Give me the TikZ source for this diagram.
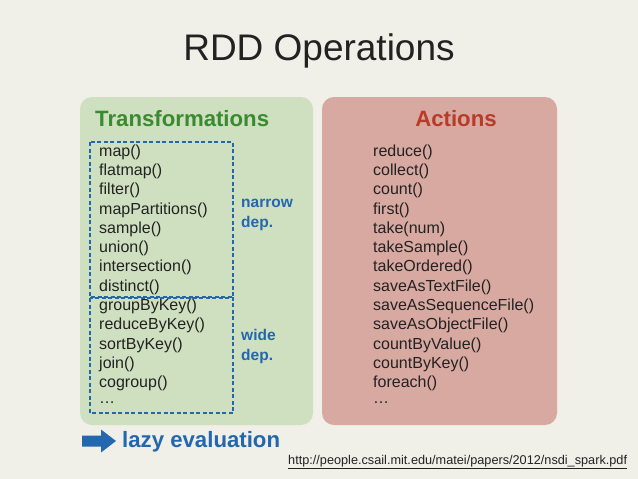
\documentclass[tikz,border=0pt]{standalone}
\usepackage{fontspec}
\setmainfont{Liberation Sans}
\definecolor{bg}{HTML}{F0EFE8}
\definecolor{greenpanel}{HTML}{CFE0C0}
\definecolor{redpanel}{HTML}{D8A9A1}
\definecolor{greentitle}{HTML}{3A8A30}
\definecolor{redtitle}{HTML}{B83A28}
\definecolor{depblue}{HTML}{2367AE}
\definecolor{txt}{HTML}{222222}
\tikzset{
  panel/.style={rounded corners=12pt, draw=none},
  head/.style={font=\fontsize{22.2}{26}\selectfont\bfseries, anchor=west},
  item/.style={font=\fontsize{16}{18}\selectfont, text=txt, anchor=west, inner sep=0pt},
  dep/.style={font=\fontsize{15.5}{18}\selectfont\bfseries, text=depblue, anchor=west, inner sep=0pt, align=left},
  depbox/.style={draw=depblue, line width=1.6pt, dash pattern=on 4pt off 2.5pt},
}
\begin{document}
\begin{tikzpicture}[x=1pt,y=-1pt]
\fill[bg] (0,0) rectangle (638,479);
\useasboundingbox (0,0) rectangle (638,479);
\node[font=\fontsize{37}{42}\selectfont, text=txt] (title) at (319,51) {RDD Operations};
\fill[panel, greenpanel] (80,97) rectangle (313,425);
\fill[panel, redpanel] (322,97) rectangle (557,425);
\node[head, text=greentitle, inner sep=0pt] (th) at (95,119) {Transformations};
\node[head, text=redtitle, anchor=center] (ah) at (456,119) {Actions};
\foreach \t [count=\i from 0] in {map(),flatmap(),filter(),mapPartitions(),sample(),union(),intersection(),distinct(),groupByKey(),reduceByKey(),sortByKey(),join(),cogroup(),\dots}
  \node[item] (t\i) at (99,{152+\i*19.3}) {\t};
\foreach \t [count=\i from 0] in {reduce(),collect(),count(),first(),take(num),takeSample(),takeOrdered(),saveAsTextFile(),saveAsSequenceFile(),saveAsObjectFile(),countByValue(),countByKey(),foreach(),\dots}
  \node[item] (a\i) at (373,{152+\i*19.3}) {\t};
\draw[depbox] (90,142) rectangle (233,297);
\draw[depbox] (90,298) rectangle (233,413);
\node[dep] (narrow) at (241,215) {narrow\\[2pt]dep.};
\node[dep] (wide) at (241,346) {wide\\[2pt]dep.};
\fill[depblue] (82,435.5) -- (101,435.5) -- (101,429.5) -- (116,441) -- (101,452.5) -- (101,446.5) -- (82,446.5) -- cycle;
\coordinate (arr) at (100,441);
\node[head, text=depblue, inner sep=0pt] (lazy) at (122,441.5) {lazy evaluation};
\node[font=\fontsize{12.7}{14}\selectfont, text=txt, anchor=west, inner sep=0pt] (url) at (288,462) {\underline{http://people.csail.mit.edu/matei/papers/2012/nsdi\_spark.pdf}};
\end{tikzpicture}
\end{document}
